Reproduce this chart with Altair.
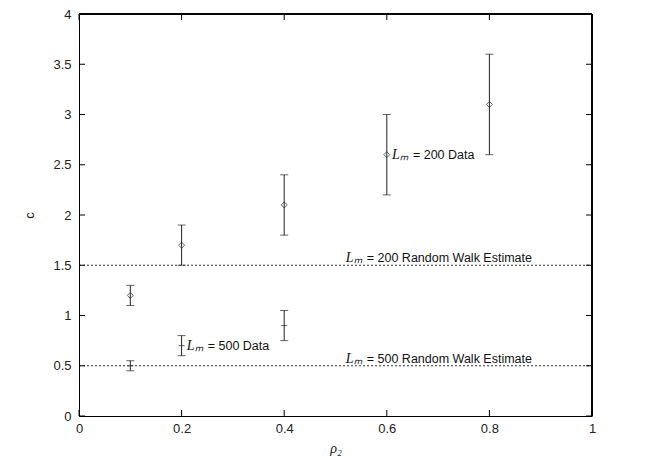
import altair as alt
import pandas as pd

# ---- data ----
rho_200 = [0.1, 0.2, 0.4, 0.6, 0.8]
c_200 = [1.2, 1.7, 2.1, 2.6, 3.1]
lo_200 = [1.1, 1.5, 1.8, 2.2, 2.6]
hi_200 = [1.3, 1.9, 2.4, 3.0, 3.6]

rho_500 = [0.1, 0.2, 0.4]
c_500 = [0.5, 0.7, 0.9]
lo_500 = [0.45, 0.6, 0.75]
hi_500 = [0.55, 0.8, 1.05]

rw_levels = [1.5, 0.5]

label_x = [0.61, 0.21, 0.52, 0.52]
label_y = [2.6, 0.7, 1.57, 0.57]
label_num = ["= 200 Data", "= 500 Data", "= 200 Random Walk Estimate", "= 500 Random Walk Estimate"]

x_ticks = [0, 0.2, 0.4, 0.6, 0.8, 1]
y_ticks = [0, 0.5, 1, 1.5, 2, 2.5, 3, 3.5, 4]

W, H = 513, 402

d200 = pd.DataFrame({"x": rho_200, "c": c_200, "lo": lo_200, "hi": hi_200})
d500 = pd.DataFrame({"x": rho_500, "c": c_500, "lo": lo_500, "hi": hi_500})
drw = pd.DataFrame({"c": rw_levels})
dlab = pd.DataFrame({"x": label_x, "c": label_y, "t": label_num})
dxt = pd.DataFrame({"x": x_ticks})
dyt = pd.DataFrame({"c": y_ticks})

xs = alt.Scale(domain=[0, 1], nice=False, zero=False)
ys = alt.Scale(domain=[0, 4], nice=False, zero=False)

X = alt.X("x:Q", scale=xs, axis=alt.Axis(values=x_ticks, title="ρ₂", titleFont="Liberation Serif",
          titleFontStyle="italic", titleFontWeight="normal", titleFontSize=14, titlePadding=6,
          titleColor="#222",
          labelFont="Liberation Sans", labelFontSize=13, labelColor="#222", tickSize=0,
          labelPadding=6, domain=True, domainColor="#000", domainWidth=1, grid=False, format="~g",
          labelFlush=False))
Y = alt.Y("c:Q", scale=ys, axis=alt.Axis(values=y_ticks, title="c", titleFont="Liberation Sans",
          titleFontWeight="normal", titleFontSize=13, titlePadding=16, titleColor="#222",
          labelFont="Liberation Sans", labelFontSize=13, labelColor="#222", tickSize=0,
          labelPadding=8, domain=True, domainColor="#000", domainWidth=1, grid=False, format="~g"))

xplain = alt.X("x:Q", scale=xs)
yplain = alt.Y("c:Q", scale=ys)

axes_base = alt.Chart(dxt).mark_point(opacity=0).encode(x=X, y=alt.value(0))
yaxes_base = alt.Chart(dyt).mark_point(opacity=0).encode(y=Y, x=alt.value(0))

# frame top/right
ftop = alt.Chart(dxt).mark_rule(color="#000", strokeWidth=1).encode(x=alt.value(0), x2=alt.value(W), y=alt.value(0))
fright = alt.Chart(dxt).mark_rule(color="#000", strokeWidth=1).encode(x=alt.value(W), y=alt.value(0), y2=alt.value(H))

# inward ticks
tb = alt.Chart(dxt).mark_rule(color="black", strokeWidth=1).encode(x=xplain, y=alt.value(H), y2=alt.value(H - 6))
tt = alt.Chart(dxt).mark_rule(color="black", strokeWidth=1).encode(x=xplain, y=alt.value(0), y2=alt.value(6))
tl = alt.Chart(dyt).mark_rule(color="black", strokeWidth=1).encode(y=yplain, x=alt.value(0), x2=alt.value(6))
tr = alt.Chart(dyt).mark_rule(color="black", strokeWidth=1).encode(y=yplain, x=alt.value(W), x2=alt.value(W - 6))

rw = alt.Chart(drw).mark_rule(color="#333", strokeWidth=1, strokeDash=[2, 2]).encode(
    y=yplain, x=alt.value(0), x2=alt.value(W))

def errbars(df):
    base = alt.Chart(df)
    v = base.mark_rule(color="#222", strokeWidth=1).encode(x=xplain, y=alt.Y("lo:Q", scale=ys), y2="hi:Q")
    cl = base.mark_tick(color="#222", orient="horizontal", size=8, thickness=1).encode(x=xplain, y=alt.Y("lo:Q", scale=ys))
    ch = base.mark_tick(color="#222", orient="horizontal", size=8, thickness=1).encode(x=xplain, y=alt.Y("hi:Q", scale=ys))
    return v + cl + ch

pts200 = alt.Chart(d200).mark_point(shape="diamond", filled=False, color="#222", size=36, strokeWidth=1).encode(x=xplain, y=yplain)
pts500 = alt.Chart(d500).mark_tick(color="#222", orient="horizontal", size=6, thickness=1).encode(x=xplain, y=yplain)

lab_L = alt.Chart(dlab).mark_text(align="left", baseline="middle", font="Liberation Serif",
                                  fontStyle="italic", fontSize=14, color="#111").encode(
    x=xplain, y=yplain, text=alt.value("Lₘ"))
lab_t = alt.Chart(dlab).mark_text(align="left", baseline="middle", font="Liberation Sans",
                                  fontSize=12.5, color="#111", dx=21).encode(x=xplain, y=yplain, text="t:N")

chart = alt.layer(
    axes_base, yaxes_base, rw,
    errbars(d200), errbars(d500), pts200, pts500,
    lab_L, lab_t, tb, tt, tl, tr, ftop, fright
).properties(
    width=W, height=H,
    autosize=alt.AutoSizeParams(type="none"),
    padding={"left": 79, "top": 14, "right": 56, "bottom": 44},
).configure_view(stroke=None).configure(background="white")

chart.save("out.html", embed_options={"renderer": "svg", "actions": False})
